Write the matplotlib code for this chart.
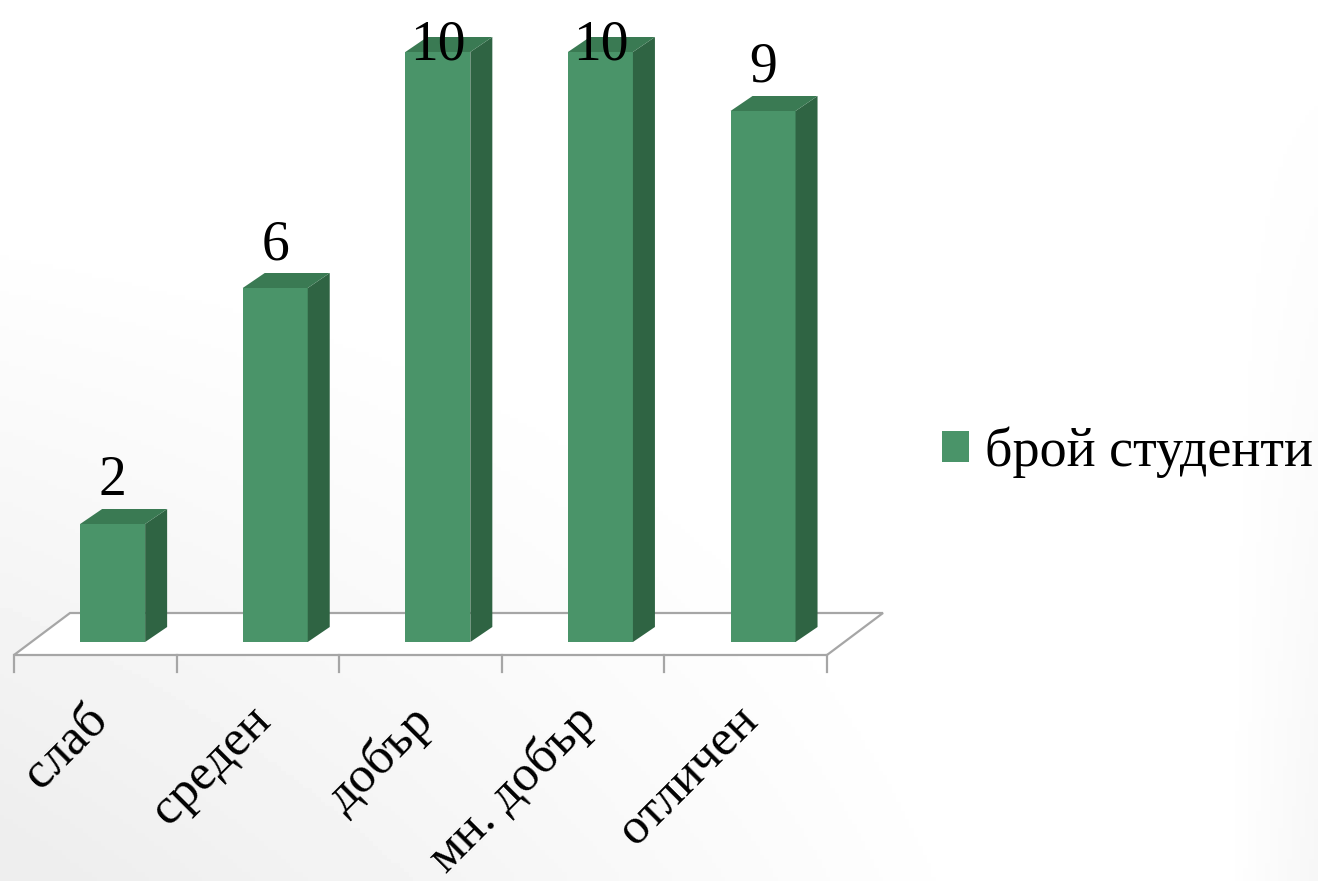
import numpy as np
import matplotlib
matplotlib.use("Agg")
import matplotlib.pyplot as plt
from matplotlib.patches import Polygon, Rectangle

categories = ["слаб", "среден", "добър", "мн. добър", "отличен"]
values = [2, 6, 10, 10, 9]
series_name = "брой студенти"

FRONT = "#4a9469"
SIDE = "#2f6443"
TOP = "#3a7a53"
GRID = "#a6a6a6"

plt.rcParams['font.family'] = ['Liberation Serif', 'DejaVu Serif']

W, H = 1318, 881
fig = plt.figure(figsize=(W / 100, H / 100), dpi=100)

# soft background shading like the slide behind the chart
bg = fig.add_axes([0, 0, 1, 1])
yy, xx = np.mgrid[0:1:200j, 0:1:300j]
shade = 1 - 0.07 * np.clip(1.4 * (1 - xx) * yy - 0.35, 0, 1) - 0.04 * np.clip((xx - 0.93) * 12, 0, 1) * yy
bg.imshow(shade, cmap="gray", vmin=0, vmax=1, extent=[0, 1, 0, 1], aspect="auto", origin="upper")
bg.axis("off")

ax = fig.add_axes([0, 0, 1, 1])
ax.patch.set_alpha(0)
ax.axis("off")

# pixel geometry -> data units
px_cat = 162.6
px_val = 59.0
x_left = -0.5 - 14 / px_cat
ax.set_xlim(x_left, x_left + W / px_cat)
ax.set_ylim(-(H - 642) / px_val, 642 / px_val)

fdx, fdy = 56 / px_cat, 42 / px_val     # floor depth
bdx, bdy = 22 / px_cat, 15 / px_val     # bar depth
front_y = -13 / px_val
n = len(categories)

# floor
floor = Polygon([(-0.5, front_y), (n - 0.5, front_y), (n - 0.5 + fdx, front_y + fdy),
                 (-0.5 + fdx, front_y + fdy)], closed=True, facecolor="white",
                edgecolor=GRID, lw=1.6, zorder=1)
ax.add_patch(floor)
for b in np.arange(-0.5, n, 1.0):
    ax.plot([b, b], [front_y, front_y - 17 / px_val], color=GRID, lw=1.6, zorder=1)

# bars with fake depth
shift = 13 / 42 * fdx
width = 65 / px_cat
xs = np.arange(n) + shift
ax.bar(xs, values, width=width, color=FRONT, zorder=3)
for x, v in zip(xs, values):
    x0, x1 = x - width / 2, x + width / 2
    ax.add_patch(Polygon([(x1, 0), (x1 + bdx, bdy), (x1 + bdx, v + bdy), (x1, v)],
                         closed=True, facecolor=SIDE, edgecolor="none", zorder=3))
    ax.add_patch(Polygon([(x0, v), (x1, v), (x1 + bdx, v + bdy), (x0 + bdx, v + bdy)],
                         closed=True, facecolor=TOP, edgecolor="none", zorder=3))
    ax.text(x, min(v + 29 / px_val, 9.87), str(v), ha="center", va="baseline",
            fontsize=40, color="black", zorder=5)

# rotated category labels
for i, lab in enumerate(categories):
    ax.text(i - 11 / px_cat, -(697 - 642) / px_val, lab, rotation=45, rotation_mode="anchor",
            ha="right", va="top", fontsize=37, color="black")

handle = Rectangle((0, 0), 1, 1, facecolor=FRONT, edgecolor="none")
ax.legend([handle], [series_name], loc="center left",
          bbox_to_anchor=(942 / W, 1 - 452 / H), frameon=False, fontsize=39,
          handlelength=0.5, handleheight=0.5, handletextpad=0.3, borderpad=0,
          borderaxespad=0)

fig.savefig("out.png", dpi=100)
